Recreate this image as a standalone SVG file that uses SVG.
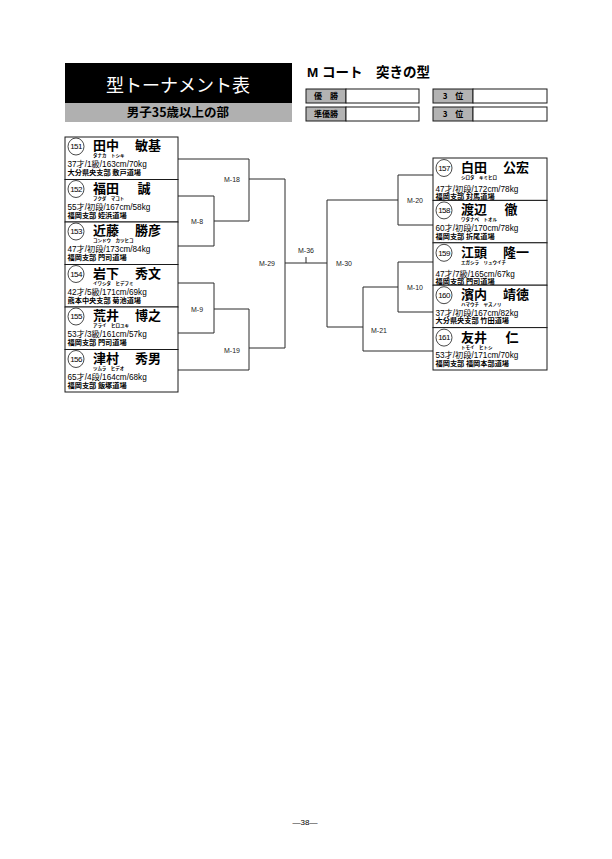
<svg xmlns="http://www.w3.org/2000/svg" width="612" height="859" viewBox="0 0 612 859">
<style>
.bg{fill:#fff}
.box{fill:#fff;stroke:#1a1a1a;stroke-width:1}
.ring{fill:none;stroke:#1a1a1a;stroke-width:0.8}
.num{font-family:"Liberation Sans","DejaVu Sans",sans-serif;font-size:8px;letter-spacing:-0.6px;text-anchor:middle;fill:#000}
.nm{font-family:"Noto Sans CJK JP",sans-serif;font-size:13px;font-weight:700;fill:#000}
.nmc{font-family:"Noto Sans CJK JP",sans-serif;font-size:13px;font-weight:700;fill:#000;text-anchor:middle}
.kana{font-family:"Noto Sans CJK JP",sans-serif;font-size:4.5px;font-weight:700;fill:#000}
.st{font-family:"Liberation Sans","Noto Sans CJK JP",sans-serif;font-size:8.2px;fill:#000}
.br{font-family:"Noto Sans CJK JP",sans-serif;font-size:7.2px;font-weight:700;fill:#000}
.conn line{stroke:#2a2a2a;stroke-width:1;fill:none}
.ml{font-family:"Liberation Sans","DejaVu Sans",sans-serif;font-size:7px;text-anchor:middle;fill:#222}
.lbl{fill:#b3b3b3;stroke:#1a1a1a;stroke-width:1}
.lt{font-family:"Noto Sans CJK JP",sans-serif;font-size:8px;font-weight:700;text-anchor:middle;fill:#000}
</style>
<rect class="bg" x="0" y="0" width="612" height="859"/>

<g id="header">
  <rect x="65" y="63" width="227" height="40" fill="#000"/>
  <rect x="65" y="103" width="227" height="19" fill="#b0b0b0"/>
  <text x="178" y="92" font-family="Noto Sans CJK JP,sans-serif" font-size="18" fill="#fff" text-anchor="middle">型トーナメント表</text>
  <text x="178" y="117" font-family="Noto Sans CJK JP,sans-serif" font-size="12.5" font-weight="700" fill="#000" text-anchor="middle">男子35歳以上の部</text>
  <text x="307" y="77" font-family="Liberation Sans,Noto Sans CJK JP,sans-serif" font-size="13.5" font-weight="700" fill="#000">M コート　突きの型</text>
</g>

<g id="results">
  <rect class="lbl" x="306" y="89" width="40" height="14"/>
  <rect class="box" x="346" y="89" width="73" height="14"/>
  <text class="lt" x="326" y="99">優　勝</text>
  <rect class="lbl" x="306" y="107" width="40" height="14"/>
  <rect class="box" x="346" y="107" width="73" height="14"/>
  <text class="lt" x="326" y="117">準優勝</text>
  <rect class="lbl" x="433" y="89" width="40" height="14"/>
  <rect class="box" x="473" y="89" width="74" height="14"/>
  <text class="lt" x="453" y="99">3　位</text>
  <rect class="lbl" x="433" y="107" width="40" height="14"/>
  <rect class="box" x="473" y="107" width="74" height="14"/>
  <text class="lt" x="453" y="117">3　位</text>
</g>

<g id="connectors" class="conn">
  <line x1="178" y1="159" x2="249" y2="159"/>
  <line x1="249" y1="159" x2="249" y2="221"/>
  <line x1="249" y1="179" x2="285" y2="179"/>
  <line x1="178" y1="196" x2="214" y2="196"/>
  <line x1="178" y1="246" x2="214" y2="246"/>
  <line x1="214" y1="196" x2="214" y2="246"/>
  <line x1="214" y1="221" x2="249" y2="221"/>
  <line x1="178" y1="283" x2="214" y2="283"/>
  <line x1="178" y1="333" x2="214" y2="333"/>
  <line x1="214" y1="283" x2="214" y2="333"/>
  <line x1="214" y1="309" x2="249" y2="309"/>
  <line x1="178" y1="370" x2="249" y2="370"/>
  <line x1="249" y1="309" x2="249" y2="370"/>
  <line x1="249" y1="348" x2="285" y2="348"/>
  <line x1="285" y1="179" x2="285" y2="348"/>
  <line x1="285" y1="263" x2="327" y2="263"/>
  <line x1="306" y1="257" x2="306" y2="263"/>
  <line x1="327" y1="200" x2="327" y2="327"/>
  <line x1="327" y1="200" x2="398" y2="200"/>
  <line x1="398" y1="175" x2="398" y2="225"/>
  <line x1="398" y1="175" x2="433" y2="175"/>
  <line x1="398" y1="225" x2="433" y2="225"/>
  <line x1="327" y1="327" x2="363" y2="327"/>
  <line x1="363" y1="287" x2="363" y2="351"/>
  <line x1="363" y1="287" x2="398" y2="287"/>
  <line x1="398" y1="262" x2="398" y2="312"/>
  <line x1="398" y1="262" x2="433" y2="262"/>
  <line x1="398" y1="312" x2="433" y2="312"/>
  <line x1="363" y1="351" x2="433" y2="351"/>
  <text class="ml" x="232" y="182">M-18</text>
  <text class="ml" x="197" y="224">M-8</text>
  <text class="ml" x="197" y="312">M-9</text>
  <text class="ml" x="232" y="353">M-19</text>
  <text class="ml" x="267" y="266">M-29</text>
  <text class="ml" x="306" y="253">M-36</text>
  <text class="ml" x="344" y="266">M-30</text>
  <text class="ml" x="415" y="203">M-20</text>
  <text class="ml" x="415" y="290">M-10</text>
  <text class="ml" x="379" y="333">M-21</text>
</g>

<g id="n151" transform="translate(65,137)">
  <rect class="box" x="0" y="0" width="113" height="42.5"/>
  <ellipse class="ring" cx="11" cy="9.5" rx="8" ry="8.5"/>
  <text class="num" x="11" y="12.3">151</text>
  <text class="nm" x="28" y="13">田中</text>
  <text class="nm" x="70" y="13">敏基</text>
  <text class="kana" x="28" y="20">タナカ　トシキ</text>
  <text class="st" x="2.5" y="30">37才/1級/163cm/70kg</text>
  <text class="br" x="2.5" y="38">大分県央支部 敷戸道場</text>
</g>
<g id="n152" transform="translate(65,179.5)">
  <rect class="box" x="0" y="0" width="113" height="42.5"/>
  <ellipse class="ring" cx="11" cy="9.5" rx="8" ry="8.5"/>
  <text class="num" x="11" y="12.3">152</text>
  <text class="nm" x="28" y="13">福田</text>
  <text class="nmc" x="79" y="13">誠</text>
  <text class="kana" x="28" y="20">フクダ　マコト</text>
  <text class="st" x="2.5" y="30">55才/初段/167cm/58kg</text>
  <text class="br" x="2.5" y="38">福岡支部 姪浜道場</text>
</g>
<g id="n153" transform="translate(65,222)">
  <rect class="box" x="0" y="0" width="113" height="42.5"/>
  <ellipse class="ring" cx="11" cy="9.5" rx="8" ry="8.5"/>
  <text class="num" x="11" y="12.3">153</text>
  <text class="nm" x="28" y="13">近藤</text>
  <text class="nm" x="70" y="13">勝彦</text>
  <text class="kana" x="28" y="20">コンドウ　カツヒコ</text>
  <text class="st" x="2.5" y="30">47才/初段/173cm/84kg</text>
  <text class="br" x="2.5" y="38">福岡支部 門司道場</text>
</g>
<g id="n154" transform="translate(65,264.5)">
  <rect class="box" x="0" y="0" width="113" height="42.5"/>
  <ellipse class="ring" cx="11" cy="9.5" rx="8" ry="8.5"/>
  <text class="num" x="11" y="12.3">154</text>
  <text class="nm" x="28" y="13">岩下</text>
  <text class="nm" x="70" y="13">秀文</text>
  <text class="kana" x="28" y="20">イワシタ　ヒデフミ</text>
  <text class="st" x="2.5" y="30">42才/5級/171cm/69kg</text>
  <text class="br" x="2.5" y="38">熊本中央支部 菊池道場</text>
</g>
<g id="n155" transform="translate(65,307)">
  <rect class="box" x="0" y="0" width="113" height="42.5"/>
  <ellipse class="ring" cx="11" cy="9.5" rx="8" ry="8.5"/>
  <text class="num" x="11" y="12.3">155</text>
  <text class="nm" x="28" y="13">荒井</text>
  <text class="nm" x="70" y="13">博之</text>
  <text class="kana" x="28" y="20">アライ　ヒロユキ</text>
  <text class="st" x="2.5" y="30">53才/3級/161cm/57kg</text>
  <text class="br" x="2.5" y="38">福岡支部 門司道場</text>
</g>
<g id="n156" transform="translate(65,349.5)">
  <rect class="box" x="0" y="0" width="113" height="42.5"/>
  <ellipse class="ring" cx="11" cy="9.5" rx="8" ry="8.5"/>
  <text class="num" x="11" y="12.3">156</text>
  <text class="nm" x="28" y="13">津村</text>
  <text class="nm" x="70" y="13">秀男</text>
  <text class="kana" x="28" y="20">ツムラ　ヒデオ</text>
  <text class="st" x="2.5" y="30">65才/4段/164cm/68kg</text>
  <text class="br" x="2.5" y="38">福岡支部 飯塚道場</text>
</g>

<g id="n157" transform="translate(433,158)">
  <rect class="box" x="0" y="0" width="114" height="42.4"/>
  <ellipse class="ring" cx="11" cy="10" rx="8" ry="8.5"/>
  <text class="num" x="11" y="12.8">157</text>
  <text class="nm" x="28" y="14">白田</text>
  <text class="nm" x="70" y="14">公宏</text>
  <text class="kana" x="28" y="21">シロタ　キミヒロ</text>
  <text class="st" x="2.5" y="34">47才/初段/172cm/78kg</text>
  <text class="br" x="2.5" y="41">福岡支部 対馬道場</text>
</g>
<g id="n158" transform="translate(433,200.4)">
  <rect class="box" x="0" y="0" width="114" height="42.4"/>
  <ellipse class="ring" cx="11" cy="10" rx="8" ry="8.5"/>
  <text class="num" x="11" y="12.8">158</text>
  <text class="nm" x="28" y="14">渡辺</text>
  <text class="nmc" x="78" y="14">徹</text>
  <text class="kana" x="28" y="21">ワタナベ　トオル</text>
  <text class="st" x="2.5" y="30.5">60才/初段/170cm/78kg</text>
  <text class="br" x="2.5" y="38.3">福岡支部 折尾道場</text>
</g>
<g id="n159" transform="translate(433,242.8)">
  <rect class="box" x="0" y="0" width="114" height="42.4"/>
  <ellipse class="ring" cx="11" cy="10" rx="8" ry="8.5"/>
  <text class="num" x="11" y="12.8">159</text>
  <text class="nm" x="28" y="14">江頭</text>
  <text class="nm" x="70" y="14">隆一</text>
  <text class="kana" x="28" y="21">エガシラ　リュウイチ</text>
  <text class="st" x="2.5" y="34">47才/7級/165cm/67kg</text>
  <text class="br" x="2.5" y="41">福岡支部 門司道場</text>
</g>
<g id="n160" transform="translate(433,285.2)">
  <rect class="box" x="0" y="0" width="114" height="42.4"/>
  <ellipse class="ring" cx="11" cy="10" rx="8" ry="8.5"/>
  <text class="num" x="11" y="12.8">160</text>
  <text class="nm" x="28" y="14">濱内</text>
  <text class="nm" x="70" y="14">靖徳</text>
  <text class="kana" x="28" y="21">ハマウチ　ヤスノリ</text>
  <text class="st" x="2.5" y="30.5">37才/初段/167cm/82kg</text>
  <text class="br" x="2.5" y="38.3">大分県央支部 竹田道場</text>
</g>
<g id="n161" transform="translate(433,327.6)">
  <rect class="box" x="0" y="0" width="114" height="42.4"/>
  <ellipse class="ring" cx="11" cy="10" rx="8" ry="8.5"/>
  <text class="num" x="11" y="12.8">161</text>
  <text class="nm" x="28" y="14">友井</text>
  <text class="nmc" x="79" y="14">仁</text>
  <text class="kana" x="28" y="21">トモイ　ヒトシ</text>
  <text class="st" x="2.5" y="30.5">53才/初段/171cm/70kg</text>
  <text class="br" x="2.5" y="38.3">福岡支部 福岡本部道場</text>
</g>

<g id="footer">
  <text x="305" y="825" font-family="Liberation Sans,sans-serif" font-size="8" text-anchor="middle" fill="#000">—38—</text>
</g>
</svg>
